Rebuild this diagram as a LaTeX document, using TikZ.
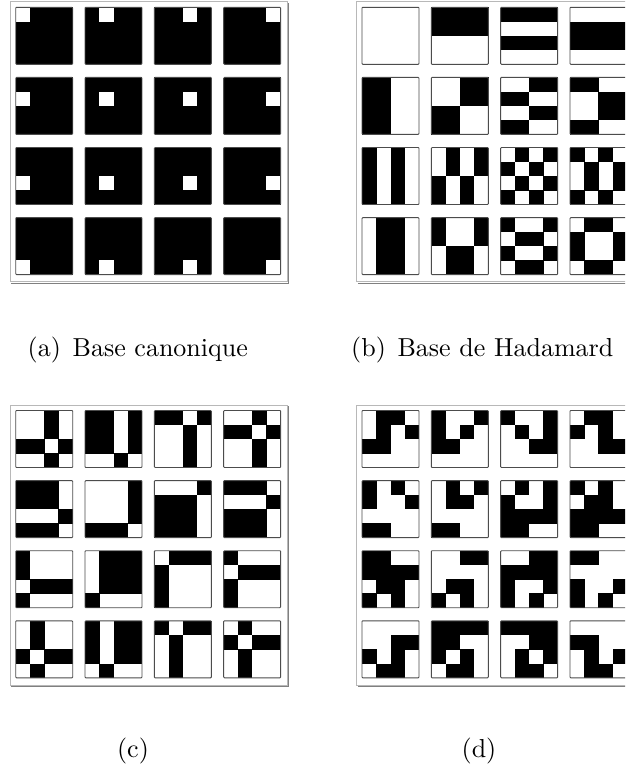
\documentclass[tikz,border=0pt]{standalone}
\usepackage{fontspec}
\setmainfont{lmroman10-regular}[Extension=.otf]
\def\CellSz{14.25}
\def\TileSz{57}
\newcommand\bitcell[3]{\ifnum#3=1 \fill[black] (#1,#2) rectangle ++(\CellSz+0.3,\CellSz+0.3);\fi}
\newcommand\trow[6]{\bitcell{#1}{#2}{#3}\bitcell{#1+\CellSz}{#2}{#4}\bitcell{#1+2*\CellSz}{#2}{#5}\bitcell{#1+3*\CellSz}{#2}{#6}}
\newcommand\tileat[8]{%
  \pgfmathsetmacro\tx{#1+#3*69.33}\pgfmathsetmacro\ty{#2+#4*70.1}%
  \fill[white] (\tx,\ty) rectangle ++(\TileSz,\TileSz);
  \trow{\tx}{\ty}#5
  \trow{\tx}{\ty+\CellSz}#6
  \trow{\tx}{\ty+2*\CellSz}#7
  \trow{\tx}{\ty+3*\CellSz}#8
  \draw[tilebd] (\tx,\ty) rectangle ++(\TileSz,\TileSz);}
\newcommand\panelframe[2]{%
  \draw[framebd] (#1-5.7,#2-5.5) rectangle (#1+271.3,#2+274.5);
  \draw[shadowbd] (#1+272.5,#2-4.3) -- (#1+272.5,#2+275.7) -- (#1-4.5,#2+275.7);}
\begin{document}
\begin{tikzpicture}[x=1pt,y=-1pt,
  tilebd/.style={draw=black!70, line width=0.9pt, rounded corners=0.8pt},
  framebd/.style={draw=black!28, line width=0.9pt},
  shadowbd/.style={draw=black!50, line width=0.9pt},
  caption/.style={anchor=base, inner sep=0pt, font=\fontsize{26}{30}\selectfont}]
\clip (0,0) rectangle (625,771);
\fill[white] (0,0) rectangle (625,771);
% frames
\panelframe{15.7}{7.3}
\panelframe{362}{7.3}
\panelframe{15.7}{410.5}
\panelframe{362}{410.5}
% (a) canonical basis
\foreach \r in {0,1,2,3}{\foreach \c in {0,1,2,3}{
  \pgfmathsetmacro\tx{15.7+\c*69.33}\pgfmathsetmacro\ty{7.3+\r*70.1}
  \fill[black] (\tx,\ty) rectangle ++(\TileSz,\TileSz);
  \fill[white] (\tx+\c*\CellSz,\ty+\r*\CellSz) rectangle ++(\CellSz,\CellSz);
  \draw[tilebd] (\tx,\ty) rectangle ++(\TileSz,\TileSz);
}}
% (b) Hadamard
\tileat{362}{7.3}{0}{0}{0000}{0000}{0000}{0000}
\tileat{362}{7.3}{1}{0}{1111}{1111}{0000}{0000}
\tileat{362}{7.3}{2}{0}{1111}{0000}{1111}{0000}
\tileat{362}{7.3}{3}{0}{0000}{1111}{1111}{0000}
\tileat{362}{7.3}{0}{1}{1100}{1100}{1100}{1100}
\tileat{362}{7.3}{1}{1}{0011}{0011}{1100}{1100}
\tileat{362}{7.3}{2}{1}{0011}{1100}{0011}{1100}
\tileat{362}{7.3}{3}{1}{1100}{0011}{0011}{1100}
\tileat{362}{7.3}{0}{2}{1010}{1010}{1010}{1010}
\tileat{362}{7.3}{1}{2}{0101}{0101}{1010}{1010}
\tileat{362}{7.3}{2}{2}{0101}{1010}{0101}{1010}
\tileat{362}{7.3}{3}{2}{1010}{0101}{0101}{1010}
\tileat{362}{7.3}{0}{3}{0110}{0110}{0110}{0110}
\tileat{362}{7.3}{1}{3}{1001}{1001}{0110}{0110}
\tileat{362}{7.3}{2}{3}{1001}{0110}{1001}{0110}
\tileat{362}{7.3}{3}{3}{0110}{1001}{1001}{0110}
% (c)
\tileat{15.7}{410.5}{0}{0}{0010}{0010}{1101}{0010}
\tileat{15.7}{410.5}{1}{0}{1101}{1101}{1101}{0010}
\tileat{15.7}{410.5}{2}{0}{1101}{0010}{0010}{0010}
\tileat{15.7}{410.5}{3}{0}{0010}{1101}{0010}{0010}
\tileat{15.7}{410.5}{0}{1}{1110}{1110}{0001}{1110}
\tileat{15.7}{410.5}{1}{1}{0001}{0001}{0001}{1110}
\tileat{15.7}{410.5}{2}{1}{0001}{1110}{1110}{1110}
\tileat{15.7}{410.5}{3}{1}{1110}{0001}{1110}{1110}
\tileat{15.7}{410.5}{0}{2}{1000}{1000}{0111}{1000}
\tileat{15.7}{410.5}{1}{2}{0111}{0111}{0111}{1000}
\tileat{15.7}{410.5}{2}{2}{0111}{1000}{1000}{1000}
\tileat{15.7}{410.5}{3}{2}{1000}{0111}{1000}{1000}
\tileat{15.7}{410.5}{0}{3}{0100}{0100}{1011}{0100}
\tileat{15.7}{410.5}{1}{3}{1011}{1011}{1011}{0100}
\tileat{15.7}{410.5}{2}{3}{1011}{0100}{0100}{0100}
\tileat{15.7}{410.5}{3}{3}{0100}{1011}{0100}{0100}
% (d)
\tileat{362}{410.5}{0}{0}{0110}{0101}{1100}{0000}
\tileat{362}{410.5}{1}{0}{1001}{1010}{1100}{0000}
\tileat{362}{410.5}{2}{0}{1001}{0101}{0011}{0000}
\tileat{362}{410.5}{3}{0}{0110}{1010}{0011}{0000}
\tileat{362}{410.5}{0}{1}{1010}{1001}{0000}{1100}
\tileat{362}{410.5}{1}{1}{0101}{0110}{0000}{1100}
\tileat{362}{410.5}{2}{1}{0101}{1001}{1111}{1100}
\tileat{362}{410.5}{3}{1}{1010}{0110}{1111}{1100}
\tileat{362}{410.5}{0}{2}{1100}{1111}{0110}{1010}
\tileat{362}{410.5}{1}{2}{0011}{0000}{0110}{1010}
\tileat{362}{410.5}{2}{2}{0011}{1111}{1001}{1010}
\tileat{362}{410.5}{3}{2}{1100}{0000}{1001}{1010}
\tileat{362}{410.5}{0}{3}{0000}{0011}{1010}{0110}
\tileat{362}{410.5}{1}{3}{1111}{1100}{1010}{0110}
\tileat{362}{410.5}{2}{3}{1111}{0011}{0101}{0110}
\tileat{362}{410.5}{3}{3}{0000}{1100}{0101}{0110}
% captions
\node[caption] (capa) at (137.8,356) {(a)\hskip0.45em Base canonique};
\node[caption] (capb) at (482.3,356) {(b)\hskip0.45em Base de Hadamard};
\node[caption] (capc) at (133,757) {(c)};
\node[caption] (capd) at (479,757) {(d)};
\end{tikzpicture}
\end{document}
